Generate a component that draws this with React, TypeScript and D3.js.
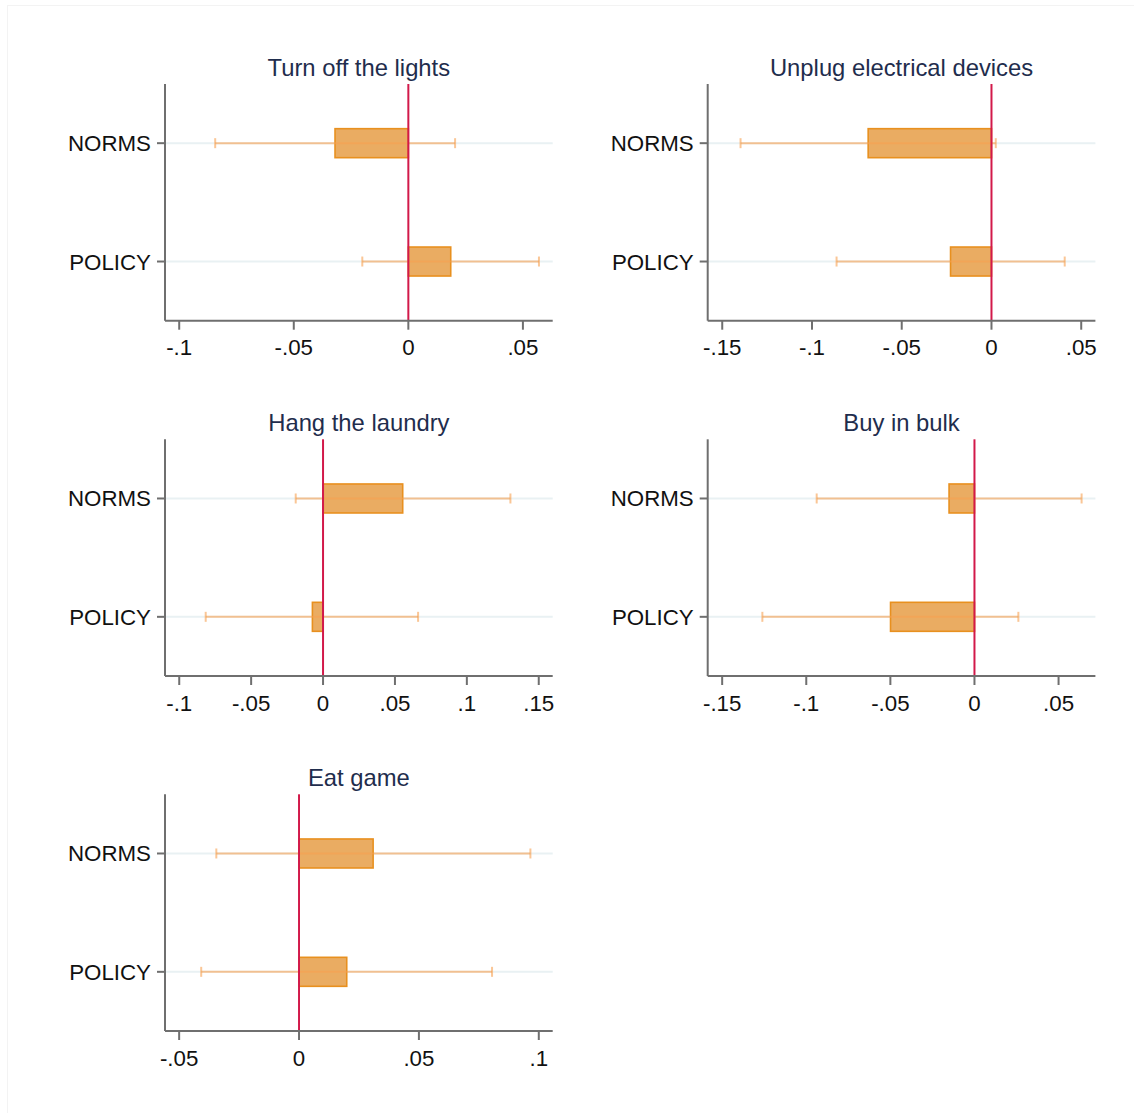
import React from "react";
import * as d3 from "d3";

const titles = ["Turn off the lights", "Unplug electrical devices", "Hang the laundry", "Buy in bulk", "Eat game"];
const categories = ["NORMS", "POLICY"];
const normsEst = [-0.032, -0.0687, 0.0554, -0.0151, 0.0309];
const normsLo = [-0.0843, -0.1398, -0.019, -0.0938, -0.0345];
const normsHi = [0.0204, 0.0024, 0.1303, 0.0637, 0.0965];
const policyEst = [0.0185, -0.0228, -0.0074, -0.0499, 0.0199];
const policyLo = [-0.0201, -0.0863, -0.0816, -0.1261, -0.0408];
const policyHi = [0.057, 0.0408, 0.0661, 0.0261, 0.0805];
const xDomains: [number, number][] = [
  [-0.1062, 0.063],
  [-0.1581, 0.0579],
  [-0.1099, 0.1597],
  [-0.1586, 0.0719],
  [-0.0559, 0.1058],
];
const xTicks = [
  [-0.1, -0.05, 0, 0.05],
  [-0.15, -0.1, -0.05, 0, 0.05],
  [-0.1, -0.05, 0, 0.05, 0.1, 0.15],
  [-0.15, -0.1, -0.05, 0, 0.05],
  [-0.05, 0, 0.05, 0.1],
];

const colX = [165, 707.7];
const rowY = [84, 439.3, 794.3];
const PW = 387.7;
const PH = 236.7;
const FONT = "'Liberation Sans', Arial, sans-serif";
const FS = 22.3;
const TFS = 23.8;

function fmt(v: number): string {
  if (Math.abs(v) < 1e-12) return "0";
  const s = String(+v.toFixed(4));
  return s.replace(/^(-?)0\./, "$1.");
}

function Panel({ i }: { i: number }) {
  const x0 = colX[i % 2];
  const y0 = rowY[Math.floor(i / 2)];
  const x = d3.scaleLinear().domain(xDomains[i]).range([0, PW]);
  const y = d3.scalePoint<string>().domain(categories).range([0, PH]).padding(0.5);
  const rows = [
    { cat: "NORMS", est: normsEst[i], lo: normsLo[i], hi: normsHi[i] },
    { cat: "POLICY", est: policyEst[i], lo: policyLo[i], hi: policyHi[i] },
  ];
  const barH = 29;
  const capH = 10;
  return (
    <g transform={`translate(${x0},${y0})`}>
      <text x={PW / 2} y={-8} textAnchor="middle" fontFamily={FONT} fontSize={TFS} fill="#1f2d4d">
        {titles[i]}
      </text>
      {rows.map((r) => (
        <line key={"g" + r.cat} x1={0} x2={PW} y1={y(r.cat)} y2={y(r.cat)} stroke="#e9f1f3" strokeWidth={2} />
      ))}
      {rows.map((r) => {
        const a = x(Math.min(0, r.est));
        const b = x(Math.max(0, r.est));
        return (
          <rect
            key={"b" + r.cat}
            x={a}
            y={(y(r.cat) as number) - barH / 2}
            width={b - a}
            height={barH}
            fill="#eaac62"
            stroke="#e8901f"
            strokeWidth={1.6}
          />
        );
      })}
      {rows.map((r) => {
        const cy = y(r.cat) as number;
        return (
          <g key={"e" + r.cat} stroke="#f6a050" strokeOpacity={0.6} strokeWidth={2}>
            <line x1={x(r.lo)} x2={x(r.hi)} y1={cy} y2={cy} />
            <line x1={x(r.lo)} x2={x(r.lo)} y1={cy - capH / 2} y2={cy + capH / 2} />
            <line x1={x(r.hi)} x2={x(r.hi)} y1={cy - capH / 2} y2={cy + capH / 2} />
          </g>
        );
      })}
      <line x1={x(0)} x2={x(0)} y1={0} y2={PH} stroke="#d2194a" strokeWidth={2} />
      <line x1={0} x2={0} y1={0} y2={PH} stroke="#6f6f6f" strokeWidth={2} />
      <line x1={0} x2={PW} y1={PH} y2={PH} stroke="#6f6f6f" strokeWidth={2} />
      {xTicks[i].map((t) => (
        <g key={"t" + t} transform={`translate(${x(t)},${PH})`}>
          <line y1={0} y2={9} stroke="#6f6f6f" strokeWidth={2} />
          <text y={34.5} textAnchor="middle" fontFamily={FONT} fontSize={FS} fill="#111">
            {fmt(t)}
          </text>
        </g>
      ))}
      {categories.map((c) => (
        <g key={"y" + c} transform={`translate(0,${y(c)})`}>
          <line x1={-8} x2={0} stroke="#6f6f6f" strokeWidth={2} />
          <text x={-14} y={8} textAnchor="end" fontFamily={FONT} fontSize={FS} fill="#111">
            {c}
          </text>
        </g>
      ))}
    </g>
  );
}

export default function App() {
  return (
    <svg
      width={1134}
      height={1113}
      style={{ position: "absolute", left: 0, top: 0, background: "#fff" }}
    >
      <rect x={0} y={0} width={1134} height={1113} fill="#fff" />
      <line x1={7} x2={1134} y1={5.5} y2={5.5} stroke="#f3f3f3" strokeWidth={1} />
      <line x1={7.5} x2={7.5} y1={5} y2={1113} stroke="#f3f3f3" strokeWidth={1} />
      {titles.map((_, i) => (
        <Panel key={i} i={i} />
      ))}
    </svg>
  );
}
